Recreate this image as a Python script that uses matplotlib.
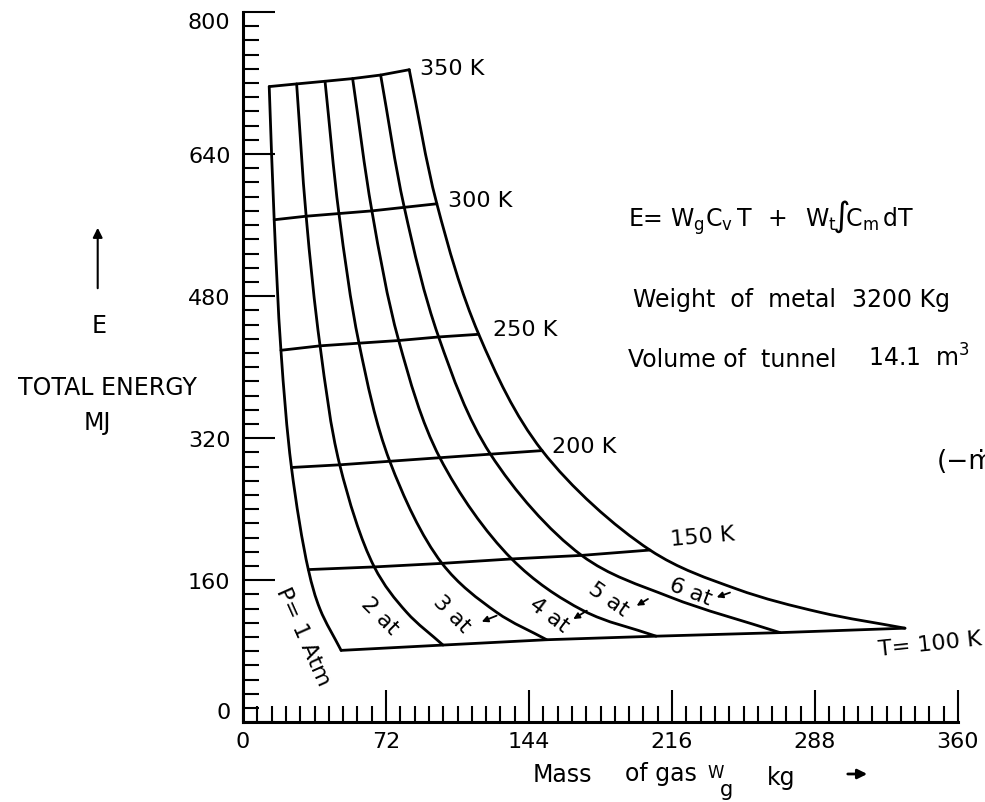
import matplotlib
matplotlib.use("Agg")
import matplotlib.pyplot as plt
from matplotlib.path import Path
from matplotlib.patches import PathPatch, FancyArrowPatch

# ---------------- data ----------------
temps = [350, 300, 250, 200, 150, 100]          # isotherms, K
pressure_labels = ["P= 1 Atm", "2 at", "3 at", "4 at", "5 at", "6 at"]

# isotherm crossings of each isobar (mass of gas kg, total energy MJ)
mass_1atm = [13.2, 15.7, 19.1, 24.4, 32.9, 49.4]
energy_1atm = [716, 566, 419, 287, 172, 81]
mass_2at = [27.0, 31.8, 38.8, 48.7, 66.1, 100.7]
energy_2at = [719, 570, 424, 290, 175, 87]
mass_3at = [41.3, 48.3, 58.4, 73.9, 100.2, 152.9]
energy_3at = [722, 573, 427, 294, 179, 93]
mass_4at = [55.2, 64.9, 78.4, 99.1, 135.3, 208.0]
energy_4at = [725, 576, 430, 298, 184, 97]
mass_5at = [69.3, 81.2, 98.5, 124.6, 170.5, 270.4]
energy_5at = [729, 580, 434, 302, 188, 101]
mass_6at = [83.7, 97.6, 118.7, 150.6, 204.9, 333.3]
energy_6at = [735, 584, 437, 306, 194, 106]

# extra points read on each isobar between the 150 K and 100 K isotherms
tail_mass_1atm, tail_energy_1atm = [38.8], [127.3]
tail_mass_2at, tail_energy_2at = [82.4], [123.9]
tail_mass_3at, tail_energy_3at = [127.7], [123.9]
tail_mass_4at, tail_energy_4at = [171.4], [125.7]
tail_mass_5at, tail_energy_5at = [215.0], [141.1]
tail_mass_6at, tail_energy_6at = [248.6, 290.5], [150.1, 123.9]

x_ticks = [0, 72, 144, 216, 288, 360]
y_ticks = [0, 160, 320, 480, 640, 800]

# ---------------- figure ----------------
plt.rcParams["font.family"] = ["DejaVu Sans"]
fig = plt.figure(figsize=(9.85, 8.03), dpi=100)
ax = fig.add_axes([243 / 985, 1 - 723.3 / 803, (958 - 243) / 985, (723.3 - 13) / 803])
ax.set_xlim(0, 360)
ax.set_ylim(0, 800)
for s in ("top", "right"):
    ax.spines[s].set_visible(False)
for s in ("left", "bottom"):
    ax.spines[s].set_linewidth(2.2)

ax.set_xticks(x_ticks, labels=[str(v) for v in x_ticks])
ax.set_yticks(y_ticks, labels=[str(v) for v in y_ticks])
ax.set_xticks([i * 7.2 for i in range(51)], minor=True)
ax.set_yticks([i * 16 for i in range(51)], minor=True)
ax.tick_params(which="major", direction="in", length=23, width=1.5, labelsize=16)
ax.tick_params(which="minor", direction="in", length=11.5, width=1.5)
ax.tick_params(axis="y", which="major", pad=9)
ax.tick_params(axis="x", which="major", pad=6)
ax.yaxis.get_major_ticks()[0].label1.set_verticalalignment("bottom")
ax.yaxis.get_major_ticks()[-1].label1.set_verticalalignment("top")

masses = [mass_1atm, mass_2at, mass_3at, mass_4at, mass_5at, mass_6at]
energies = [energy_1atm, energy_2at, energy_3at, energy_4at, energy_5at, energy_6at]
tails_m = [tail_mass_1atm, tail_mass_2at, tail_mass_3at, tail_mass_4at,
           tail_mass_5at, tail_mass_6at]
tails_e = [tail_energy_1atm, tail_energy_2at, tail_energy_3at, tail_energy_4at,
           tail_energy_5at, tail_energy_6at]

LW = 2.0
SX, SY = 1.986, 0.888     # screen pixels per data unit, used for spline spacing


def smooth_path(xs, ys):
    """Centripetal Catmull-Rom spline through the points, as cubic Beziers."""
    pts = [(x * SX, y * SY) for x, y in zip(xs, ys)]
    n = len(pts)

    def sub(a, b):
        return (a[0] - b[0], a[1] - b[1])

    def dist(a, b):
        d = sub(a, b)
        return max((d[0] ** 2 + d[1] ** 2) ** 0.25, 1e-6)

    verts = [pts[0]]
    codes = [Path.MOVETO]
    for i in range(n - 1):
        p1, p2 = pts[i], pts[i + 1]
        p0 = pts[i - 1] if i > 0 else (2 * p1[0] - p2[0], 2 * p1[1] - p2[1])
        p3 = pts[i + 2] if i + 2 < n else (2 * p2[0] - p1[0], 2 * p2[1] - p1[1])
        d0, d1, d2 = dist(p1, p0), dist(p2, p1), dist(p3, p2)
        m1 = [d1 * ((p1[k] - p0[k]) / d0 - (p2[k] - p0[k]) / (d0 + d1)
                    + (p2[k] - p1[k]) / d1) for k in range(2)]
        m2 = [d1 * ((p2[k] - p1[k]) / d1 - (p3[k] - p1[k]) / (d1 + d2)
                    + (p3[k] - p2[k]) / d2) for k in range(2)]
        c1 = (p1[0] + m1[0] / 3, p1[1] + m1[1] / 3)
        c2 = (p2[0] - m2[0] / 3, p2[1] - m2[1] / 3)
        verts += [c1, c2, p2]
        codes += [Path.CURVE4] * 3
    verts = [(vx / SX, vy / SY) for vx, vy in verts]
    return Path(verts, codes)


# isobars (smooth curves through the isotherm crossings)
for m, e, tm, te in zip(masses, energies, tails_m, tails_e):
    xs = m[:-1] + tm + m[-1:]
    ys = e[:-1] + te + e[-1:]
    ax.add_patch(PathPatch(smooth_path(xs, ys), fill=False, lw=LW, color="black",
                           capstyle="round", joinstyle="round"))

# isotherms
for k in range(len(temps)):
    ax.plot([m[k] for m in masses], [e[k] for e in energies], color="black",
            lw=LW, solid_capstyle="round")

TS = 16
iso_labels = [("350 K", 89.1, 737, 0), ("300 K", 103.2, 588.4, 0),
              ("250 K", 125.9, 443, 0), ("200 K", 155.6, 311.2, 0),
              ("150 K", 215, 206.4, 5), ("T= 100 K", 319.7, 82.5, 6)]
for txt, x, y, r in iso_labels:
    ax.text(x, y, txt, fontsize=TS, ha="left", va="center", rotation=r,
            rotation_mode="anchor")

p_pos = [(30.4, 97.5, -66), (69.0, 120.8, -45), (105.1, 123.1, -45),
         (154.1, 121.2, -37), (183.9, 138.9, -35), (225.1, 148.2, -21)]
for txt, (x, y, r) in zip(pressure_labels, p_pos):
    ax.text(x, y, txt, fontsize=TS, ha="center", va="center", rotation=r,
            rotation_mode="anchor")

arrows = [((127.7, 120.1), (120.2, 113.3)), ((173.1, 125.7), (166.3, 116.3)),
          ((203.9, 138.9), (198.2, 131.3)), ((245.2, 146.1), (238.5, 140.8))]
for start, end in arrows:
    ax.annotate("", xy=end, xytext=start,
                arrowprops=dict(arrowstyle="-|>", color="black", lw=1.3,
                                mutation_scale=9, shrinkA=0, shrinkB=0))

# text block on the right
fig.text(628 / 985, 1 - 227 / 803,
         r"E= $\mathregular{W_gC_v\,T\;\;+\;\;W_t\!\int\!C_m\,dT}$",
         fontsize=17, ha="left", va="baseline")
fig.text(633 / 985, 1 - 306.7 / 803, "Weight  of  metal", fontsize=17,
         ha="left", va="baseline")
fig.text(852 / 985, 1 - 306.7 / 803, "3200 Kg", fontsize=17, ha="left",
         va="baseline")
fig.text(628 / 985, 1 - 366.7 / 803, "Volume of  tunnel", fontsize=17,
         ha="left", va="baseline")
fig.text(868 / 985, 1 - 366.7 / 803, r"14.1  m$^\mathregular{3}$", fontsize=17,
         ha="left", va="baseline")
fig.text(937 / 985, 1 - 462 / 803, "(\u2212\u1e41", fontsize=19, ha="left",
         va="center")

# y-axis title block
fig.patches.append(FancyArrowPatch(
    (97.7 / 985, 1 - 292 / 803), (97.7 / 985, 1 - 226 / 803),
    transform=fig.transFigure, arrowstyle="-|>", mutation_scale=14,
    lw=1.5, color="black"))
fig.text(99 / 985, 1 - 326 / 803, "E", fontsize=17, ha="center", va="center")
fig.text(107 / 985, 1 - 388 / 803, "TOTAL ENERGY", fontsize=17, ha="center",
         va="center")
fig.text(97 / 985, 1 - 423 / 803, "MJ", fontsize=17, ha="center", va="center")

# x-axis title block
fig.text(562 / 985, 1 - 782 / 803, "Mass", fontsize=17, ha="center",
         va="baseline")
fig.text(625 / 985, 1 - 781 / 803, "of gas", fontsize=17, ha="left",
         va="baseline")
fig.text(707 / 985, 1 - 778 / 803, "W", fontsize=12, ha="left", va="baseline")
fig.text(720 / 985, 1 - 796 / 803, "g", fontsize=15, ha="left", va="baseline")
fig.text(767 / 985, 1 - 785 / 803, "kg", fontsize=17, ha="left", va="baseline")
fig.patches.append(FancyArrowPatch(
    (845 / 985, 1 - 775 / 803), (870 / 985, 1 - 775 / 803),
    transform=fig.transFigure, arrowstyle="-|>", mutation_scale=14,
    lw=2, color="black"))

fig.savefig("out.png", dpi=100)
